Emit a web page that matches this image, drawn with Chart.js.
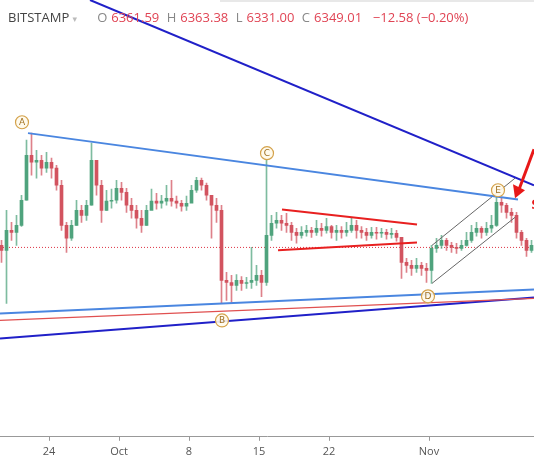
<!DOCTYPE html>
<html>
<head>
<meta charset="utf-8">
<script src="https://cdn.jsdelivr.net/npm/chart.js@4/dist/chart.umd.min.js"></script>
<style>
  body{margin:0;background:#fff;font-family:"Open Sans","DejaVu Sans",sans-serif;}
  #wrap{position:relative;width:534px;height:462px;}
  #hdr{position:absolute;left:8px;top:8px;font-size:13px;color:#e04454;white-space:nowrap;}
  #hdr .s{color:#444;margin-right:16px;}
  #hdr .k{color:#888;}
  #hdr span{margin-right:4px;}
  #topline{position:absolute;left:220px;right:0;top:0;height:2px;background:#e8e8e8;}
</style>
</head>
<body>
<div id="wrap">
  <canvas id="c"></canvas>
  <div id="topline"></div>
  <div id="hdr"><span class="s">BITSTAMP <span style="color:#bbb;font-size:9px">▾</span></span><span><span class="k">O</span>6361.59</span> <span><span class="k">H</span>6363.38</span> <span><span class="k">L</span>6331.00</span> <span><span class="k">C</span>6349.01</span> <span>&nbsp;−12.58 (−0.20%)</span></div>
</div>
<script>
// days since Sep 24, 12h candles
const days=[-4.75,-4.25,-3.75,-3.25,-2.75,-2.25,-1.75,-1.25,-0.75,-0.25,0.25,0.75,1.25,1.75,2.25,2.75,3.25,3.75,4.25,4.75,5.25,5.75,6.25,6.75,7.25,7.75,8.25,8.75,9.25,9.75,10.25,10.75,11.25,11.75,12.25,12.75,13.25,13.75,14.25,14.75,15.25,15.75,16.25,16.75,17.25,17.75,18.25,18.75,19.25,19.75,20.25,20.75,21.25,21.75,22.25,22.75,23.25,23.75,24.25,24.75,25.25,25.75,26.25,26.75,27.25,27.75,28.25,28.75,29.25,29.75,30.25,30.75,31.25,31.75,32.25,32.75,33.25,33.75,34.25,34.75,35.25,35.75,36.25,36.75,37.25,37.75,38.25,38.75,39.25,39.75,40.25,40.75,41.25,41.75,42.25,42.75,43.25,43.75,44.25,44.75,45.25,45.75,46.25,46.75,47.25,47.75,48.25];
const closes=[6339,6407,6400,6424,6509,6662,6638,6645,6618,6638,6618,6560,6424,6380,6424,6475,6458,6492,6645,6560,6475,6506,6509,6550,6536,6492,6475,6448,6424,6475,6506,6499,6506,6516,6506,6499,6489,6499,6543,6577,6560,6526,6492,6475,6237,6230,6220,6237,6227,6230,6237,6254,6230,6390,6431,6441,6431,6424,6400,6390,6400,6407,6400,6414,6407,6420,6400,6407,6400,6407,6424,6407,6400,6390,6400,6397,6400,6393,6397,6383,6298,6288,6278,6288,6278,6271,6346,6356,6373,6356,6349,6346,6356,6373,6400,6414,6400,6414,6424,6502,6492,6468,6458,6400,6373,6339,6356];
const highs=[6373,6475,6434,6458,6526,6713,6737,6679,6662,6672,6652,6628,6577,6434,6441,6509,6492,6509,6703,6628,6577,6543,6547,6577,6570,6550,6516,6492,6475,6492,6547,6533,6526,6560,6577,6523,6509,6523,6560,6587,6584,6567,6526,6516,6492,6264,6254,6257,6250,6247,6349,6288,6271,6645,6458,6468,6458,6465,6434,6414,6420,6424,6417,6441,6431,6448,6424,6424,6420,6434,6451,6441,6420,6414,6417,6417,6414,6410,6414,6407,6380,6312,6305,6312,6298,6295,6356,6380,6390,6380,6366,6363,6373,6400,6424,6434,6420,6434,6458,6523,6516,6499,6482,6468,6407,6380,6373];
const lows=[6298,6159,6373,6356,6420,6509,6594,6584,6594,6604,6584,6543,6407,6332,6373,6424,6434,6441,6492,6526,6434,6475,6482,6499,6509,6468,6448,6414,6400,6424,6482,6479,6482,6492,6489,6482,6472,6475,6509,6536,6543,6509,6380,6434,6159,6169,6162,6203,6203,6210,6210,6220,6182,6220,6373,6414,6407,6400,6373,6363,6380,6387,6383,6390,6387,6397,6380,6373,6380,6387,6400,6380,6380,6373,6380,6377,6383,6377,6380,6370,6244,6264,6254,6264,6254,6230,6227,6332,6346,6339,6332,6329,6339,6353,6366,6387,6380,6390,6400,6420,6468,6448,6434,6380,6356,6318,6332];
const firstOpen=6356;
const tickDays=[0,7,14,21,28,38];
const tickText=['24','Oct','8','15','22','Nov'];
const lastPrice=6349;

// drawn lines: [x1,y1,x2,y2] in days/price, with colour and width
const trendLines=[
  {p:[4.1,7189,48.5,6560],c:'#2020c8',w:2},
  {p:[-2.1,6737,46.9,6512],c:'#4a86e0',w:2},
  {p:[-4.9,6125,48.5,6206],c:'#4a86e0',w:2},
  {p:[-4.9,6101,48.5,6176],c:'#e05050',w:1.2},
  {p:[-4.9,6040,48.5,6179],c:'#2020c8',w:2},
  {p:[23.3,6478,36.8,6427],c:'#e82020',w:2},
  {p:[22.9,6339,36.8,6366],c:'#e82020',w:2},
  {p:[38.3,6356,46.6,6584],c:'#666',w:1},
  {p:[38.3,6227,46.6,6451],c:'#666',w:1}
];
const waveLabels=[
  {t:'A',x:-2.7,y:6774},{t:'C',x:21.8,y:6669},{t:'E',x:44.9,y:6543},
  {t:'B',x:17.3,y:6101},{t:'D',x:37.9,y:6183}
];

const opens=closes.map((c,i)=>i===0?firstOpen:closes[i-1]);
const up=closes.map((c,i)=>c>=opens[i]);
const GREEN='#4fa37d', RED='#d2535f';
const wick=days.map((d,i)=>({x:d,y:[lows[i],highs[i]]}));
const body=days.map((d,i)=>{
  let a=Math.min(opens[i],closes[i]), b=Math.max(opens[i],closes[i]);
  if(b-a<3){b+=1.5;a-=1.5;}
  return {x:d,y:[a,b]};
});
const col=up.map(u=>u?GREEN:RED);

const datasets=[
  {type:'bar',data:wick,backgroundColor:col.map(c=>c+'bb'),barThickness:1,grouped:false,order:2},
  {type:'bar',data:body,backgroundColor:col,barThickness:3,grouped:false,order:1},
  {type:'line',data:[{x:-4.9,y:lastPrice},{x:48.5,y:lastPrice}],borderColor:'#dd3344',borderWidth:1,borderDash:[1,2],pointRadius:0,order:3}
];
trendLines.forEach(l=>datasets.push({type:'line',data:[{x:l.p[0],y:l.p[1]},{x:l.p[2],y:l.p[3]}],borderColor:l.c,borderWidth:l.w,pointRadius:0,order:0}));

const overlay={
  id:'overlay',
  afterDatasetsDraw(ch){
    const {ctx,scales:{x,y}}=ch;
    ctx.save();
    waveLabels.forEach(w=>{
      const px=x.getPixelForValue(w.x), py=y.getPixelForValue(w.y);
      ctx.beginPath();ctx.arc(px,py,6.5,0,Math.PI*2);
      ctx.fillStyle='rgba(255,250,235,0.9)';ctx.fill();
      ctx.strokeStyle='#d4a24a';ctx.lineWidth=1.2;ctx.stroke();
      ctx.fillStyle='#a07020';ctx.font='9px "DejaVu Sans"';ctx.textAlign='center';ctx.textBaseline='middle';
      ctx.fillText(w.t,px,py+0.5);
    });
    // arrow
    const x1=x.getPixelForValue(48.5),y1=y.getPixelForValue(6682),x2=x.getPixelForValue(46.6),y2=y.getPixelForValue(6516);
    ctx.strokeStyle='#e81818';ctx.lineWidth=3;
    ctx.beginPath();ctx.moveTo(x1,y1);ctx.lineTo(x2+3,y2-6);ctx.stroke();
    ctx.fillStyle='#e81818';ctx.beginPath();
    ctx.moveTo(x2,y2);ctx.lineTo(x2-2,y2-14);ctx.lineTo(x2+10,y2-8);ctx.closePath();ctx.fill();
    ctx.font='bold 14px "DejaVu Sans"';ctx.textAlign='left';
    ctx.fillText('$',x.getPixelForValue(48.2),y.getPixelForValue(6492));
    ctx.restore();
  }
};

new Chart(document.getElementById('c'),{
  data:{datasets},
  plugins:[overlay],
  options:{
    responsive:true,maintainAspectRatio:false,animation:false,
    layout:{padding:0},
    plugins:{legend:{display:false},tooltip:{enabled:false}},
    scales:{
      x:{type:'linear',min:-4.9,max:48.5,offset:false,bounds:'ticks',
        afterBuildTicks:s=>{s.ticks=tickDays.map(v=>({value:v}));},
        ticks:{callback:v=>tickText[tickDays.indexOf(v)],color:'#555',font:{size:11,family:'"Open Sans"'},maxRotation:0,padding:4},
        grid:{drawOnChartArea:false,offset:false,tickLength:4,color:'#999'},
        border:{color:'#999',width:1}},
      y:{display:false,min:5706,max:7189}
    }
  }
});
</script>
</body>
</html>
